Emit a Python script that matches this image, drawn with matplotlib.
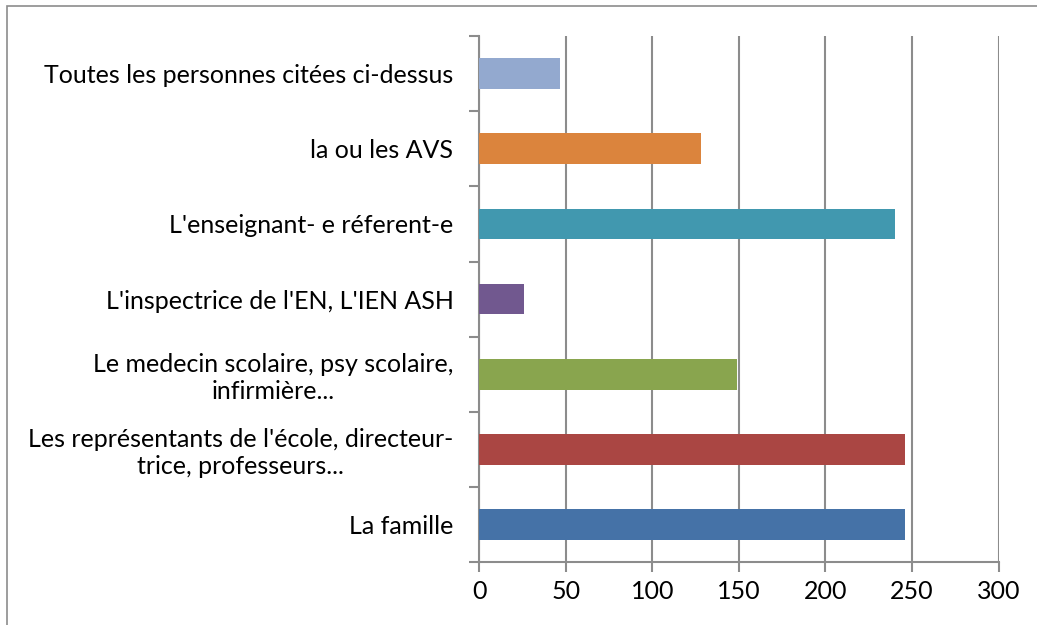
import matplotlib.pyplot as plt
from matplotlib.patches import Rectangle

plt.rcParams['font.family'] = ['Lato', 'DejaVu Sans']

categories = [
    "La famille",
    "Les représentants de l'école, directeur-\ntrice, professeurs...",
    "Le medecin scolaire, psy scolaire,\ninfirmière...",
    "L'inspectrice de l'EN, L'IEN ASH",
    "L'enseignant- e réferent-e",
    "la ou les AVS",
    "Toutes les personnes citées ci-dessus",
]
values = [246, 246, 149, 26, 240, 128, 47]
colors = ['#4572A7', '#AA4643', '#89A54E', '#71588F', '#4198AF', '#DB843D', '#93A9CF']
xticks = [0, 50, 100, 150, 200, 250, 300]

fig = plt.figure(figsize=(10.37, 6.25), dpi=100)
ax = fig.add_axes([0.462, 0.101, 0.501, 0.841])

pos = list(range(len(categories)))
ax.barh(pos, values, height=0.41, color=colors, zorder=3)

ax.set_xlim(0, 300)
ax.set_ylim(-0.5, len(categories) - 0.5)
ax.set_xticks(xticks)
ax.set_xticklabels([str(t) for t in xticks])

# category labels between the tick marks, tick marks at boundaries
ax.set_yticks(pos)
ax.set_yticklabels(categories, multialignment='center')
ax.set_yticks([p - 0.5 for p in pos] + [len(categories) - 0.5], minor=True)
ax.tick_params(axis='y', which='major', length=0, pad=18.5, labelsize=18)
ax.tick_params(axis='y', which='minor', length=7, width=1.5, color='#8c8c8c')
ax.tick_params(axis='x', length=7, width=1.5, color='#8c8c8c', labelsize=18, pad=6)

ax.grid(axis='x', color='#8c8c8c', linewidth=1.5, zorder=0)
for side in ['top', 'right']:
    ax.spines[side].set_visible(False)
for side in ['left', 'bottom']:
    ax.spines[side].set_color('#8c8c8c')
    ax.spines[side].set_linewidth(1.5)

# outer chart border
fig.patches.append(Rectangle((7 / 1037, -0.05), 1.1, 1 - 6 / 625 + 0.05, transform=fig.transFigure,
                             fill=False, edgecolor='#8c8c8c', linewidth=1.2))

fig.savefig('out.png', dpi=100)
